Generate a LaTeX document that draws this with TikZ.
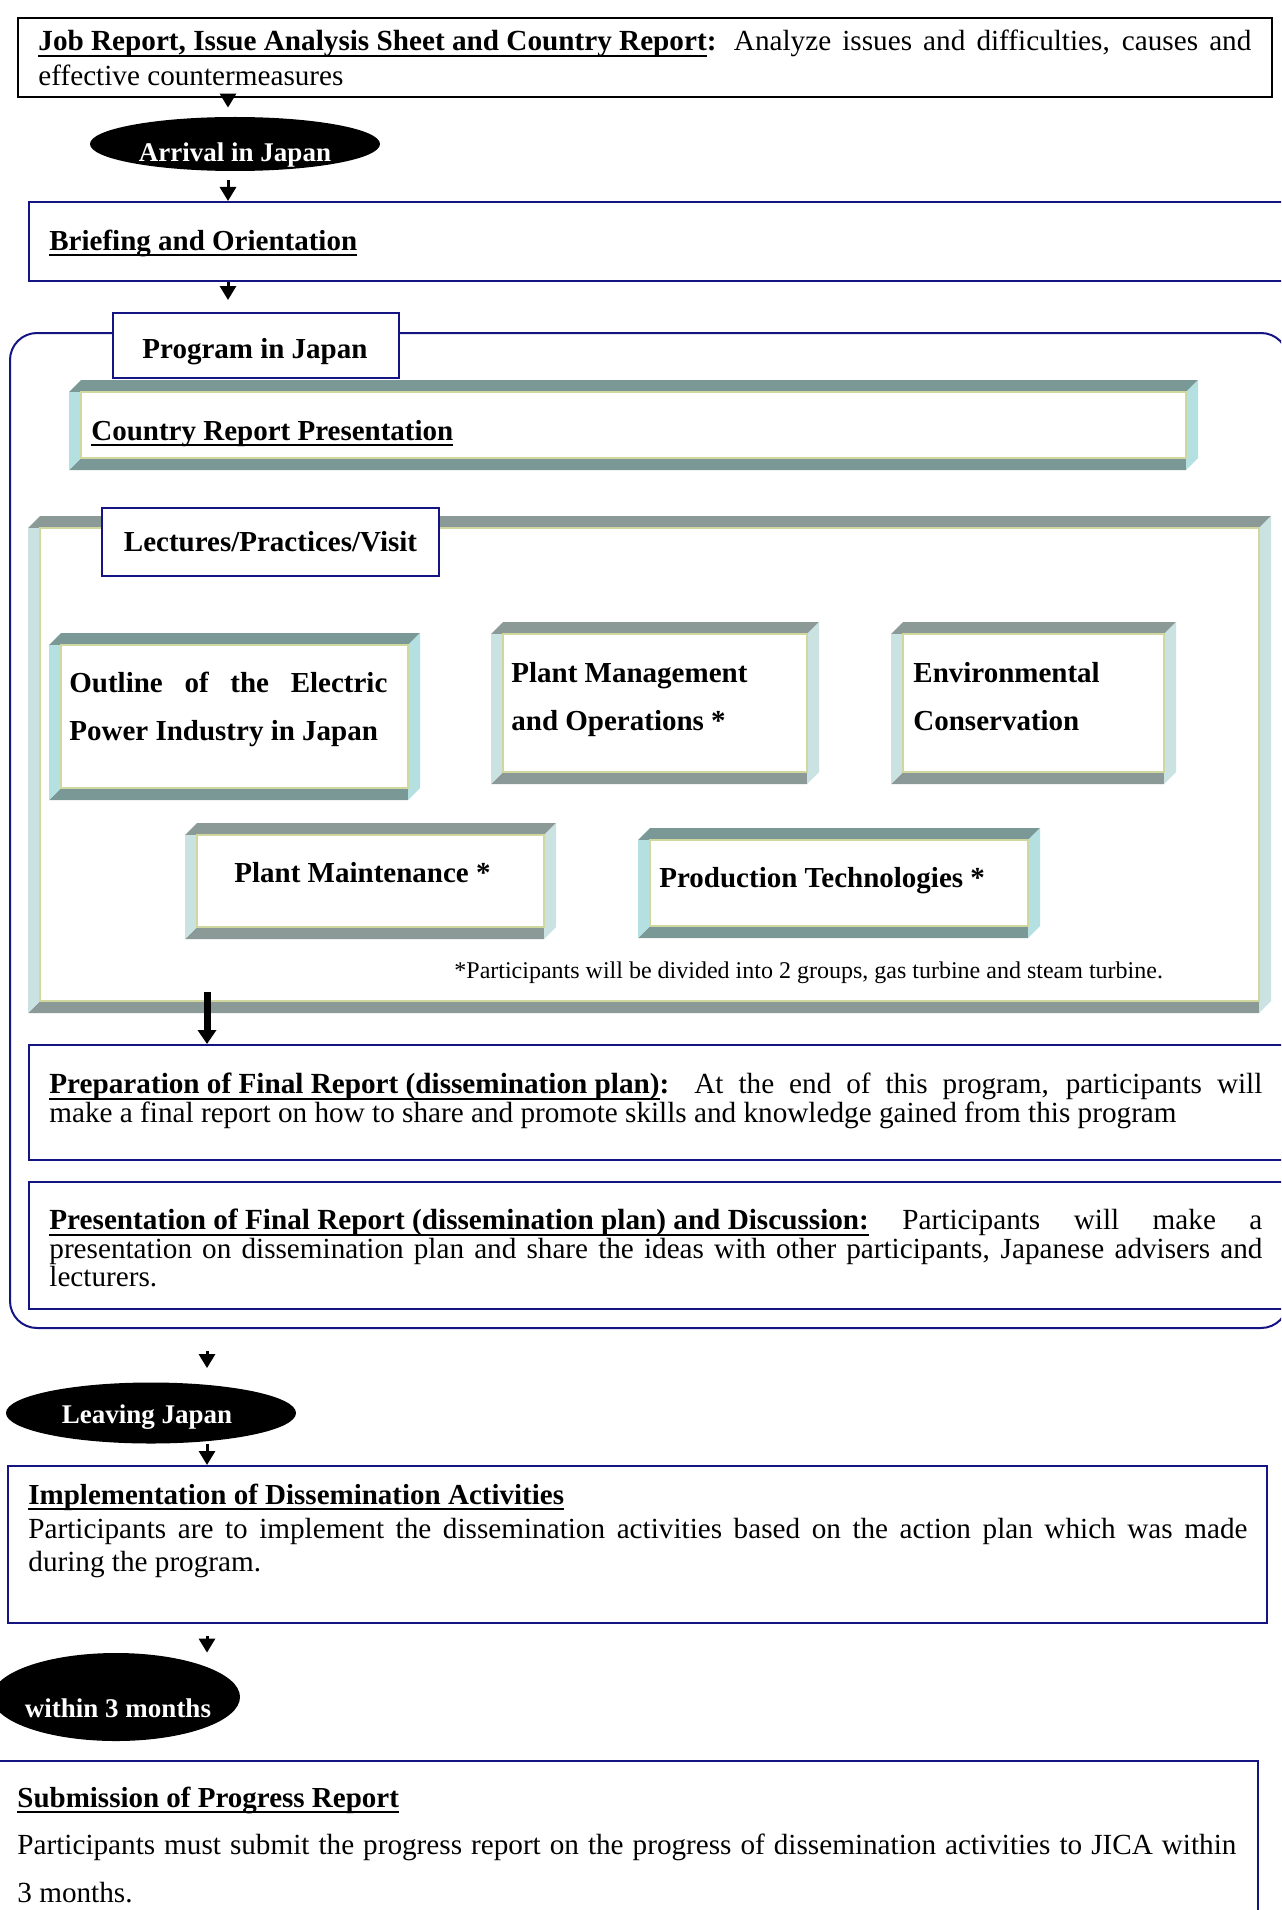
\documentclass[tikz,border=0pt]{standalone}
\usepackage{fontspec}
\setmainfont{Liberation Serif}
\usetikzlibrary{arrows.meta,shapes.geometric,positioning}

\definecolor{navy}{RGB}{20,20,130}
\definecolor{bevdark}{RGB}{122,153,150}
\definecolor{bevgray}{RGB}{139,153,151}
\definecolor{bevcyan}{RGB}{180,224,226}
\definecolor{bevpale}{RGB}{202,226,226}
\definecolor{khaki}{RGB}{208,216,160}

\hyphenpenalty=10000
\exhyphenpenalty=10000
\tolerance=9000

% thick underline
\newsavebox{\ulbox}
\newcommand{\ulb}[1]{\sbox{\ulbox}{#1}\rlap{\rule[-3pt]{\wd\ulbox}{1pt}}\usebox{\ulbox}}

% bevelled frame: x0, y0, x1, y1, top/bottom colour, side colour
\newcommand{\bevbox}[6]{%
  \fill[#5] (#1,#2+12) -- (#1+12,#2) -- (#3,#2) -- (#3-12,#2+12) -- cycle;
  \fill[#5] (#1,#4) -- (#1+12,#4-12) -- (#3-12,#4-12) -- (#3-12,#4) -- cycle;
  \fill[#6] (#1,#2+12) -- (#1+12,#2+12) -- (#1+12,#4-12) -- (#1,#4) -- cycle;
  \fill[#6] (#3-12,#2+12) -- (#3,#2) -- (#3,#4-12) -- (#3-12,#4) -- cycle;
  \draw[khaki, line width=0.8pt, fill=white] (#1+12,#2+12) rectangle (#3-12,#4-12);
}

\begin{document}
\begin{tikzpicture}[x=0.5pt, y=-0.5pt, >={Triangle[width=8pt,length=7pt]},
    navybox/.style={draw=navy, line width=1pt, inner sep=0pt, anchor=north west},
    oval/.style={ellipse, fill=black, inner sep=0pt},
    ovaltxt/.style={text=white, inner sep=0pt, font=\fontsize{13.5}{16}\selectfont\bfseries},
    title/.style={anchor=base west, inner sep=0pt, font=\fontsize{14.5}{17}\selectfont\bfseries},
    boxtitle/.style={anchor=west, inner sep=0pt, font=\fontsize{14.5}{17}\selectfont\bfseries},
    body/.style={anchor=north west, inner sep=0pt, align=justify, text width=#1},
    arr/.style={->, line width=1.5pt}]
  \useasboundingbox (0,0) rectangle (1281,1910);
  \clip (0,0) rectangle (1281,1910);
  \coordinate (spine) at (228,0);
  \coordinate (spine2) at (207,0);

  % before arrival
  \node[draw, line width=0.8pt, inner sep=0pt, anchor=north west, minimum width=627pt, minimum height=39.5pt] (job) at (17,17) {};
  \node[body=606.5pt, font=\fontsize{14.6}{17.5}\selectfont] (jobtxt) at (38,30)
    {\ulb{\textbf{Job Report, Issue Analysis Sheet and Country Report}}\textbf{:} Analyze issues and difficulties, causes and effective countermeasures};

  \node[oval, minimum width=145pt, minimum height=27pt] (arrival) at (235,144) {};
  \node[ovaltxt] (arrivaltxt) at (235,155) {Arrival in Japan};
  \draw[arr, shorten >=4.5pt] (job.south -| spine) -- (arrival.north -| spine);

  \node[navybox, minimum width=631pt, minimum height=39.5pt] (brief) at (28,201) {};
  \node[title] (brieftxt) at (49,250) {\ulb{Briefing and Orientation}};
  \draw[arr, shorten <=4.5pt] (arrival.south -| spine) -- (brief.north -| spine);

  % program in Japan
  \node[navybox, rounded corners=13.5pt, minimum width=639pt, minimum height=497.5pt] (prog) at (9,332) {};
  \node[navybox, fill=white, minimum width=143pt, minimum height=32.5pt] (proglbl) at (112,312) {};
  \node[boxtitle, anchor=center] (proglbltxt) at (255,352) {Program in Japan};
  \draw[arr, shorten >=6pt] (brief.south -| spine) -- (proglbl.north -| spine);

  \bevbox{69}{380}{1198}{470}{bevdark}{bevcyan}
  \node[title] (country) at (91,440) {\ulb{Country Report Presentation}};

  \bevbox{28}{516}{1271}{1013}{bevgray}{bevpale}
  \node[navybox, fill=white, minimum width=168.5pt, minimum height=34pt, font=\fontsize{14.5}{17}\selectfont\bfseries] (lect) at (101,507) {Lectures/Practices/Visit};

  \bevbox{49}{633}{420}{800}{bevdark}{bevcyan}
  \node[body=159pt, font=\fontsize{14.5}{24}\selectfont\bfseries] (outline) at (69,672) {Outline of the Electric Power Industry in Japan};

  \bevbox{491}{622}{819}{784}{bevgray}{bevpale}
  \node[anchor=north west, inner sep=0pt, align=left, font=\fontsize{14.5}{24}\selectfont\bfseries] (plantmgmt) at (511,662) {Plant Management\\and Operations *};

  \bevbox{891}{622}{1176}{784}{bevgray}{bevpale}
  \node[anchor=north west, inner sep=0pt, align=left, font=\fontsize{14.5}{24}\selectfont\bfseries] (env) at (913,662) {Environmental\\Conservation};

  \bevbox{185}{823}{556}{939}{bevgray}{bevpale}
  \node[boxtitle] (maint) at (234,873) {Plant Maintenance *};

  \bevbox{638}{828}{1040}{938}{bevdark}{bevcyan}
  \node[boxtitle] (prodtech) at (659,881) {Production Technologies *};

  \node[anchor=west, inner sep=0pt, font=\fontsize{12}{14}\selectfont] (note) at (454,973) {*Participants will be divided into 2 groups, gas turbine and steam turbine.};

  \node[navybox, minimum width=631pt, minimum height=57.5pt] (prep) at (28,1044) {};
  \coordinate (lectout) at (207,992);
  \draw[->, line width=3.5pt, >={Triangle[width=9pt,length=7pt]}] (lectout) -- (prep.north -| lectout);
  \node[body=606.5pt, font=\fontsize{14.6}{11.5}\selectfont] (preptxt) at (49,1073)
    {\lineskiplimit=-20pt\relax\ulb{\textbf{Preparation of Final Report (dissemination plan)}}\textbf{:} At the end of this program, participants will\linebreak make a final report on how to share and promote skills and knowledge gained from this program};

  \node[navybox, minimum width=631pt, minimum height=63.5pt] (pres) at (28,1181) {};
  \node[body=606.5pt, font=\fontsize{14.6}{12.2}\selectfont] (prestxt) at (49,1209)
    {\lineskiplimit=-20pt\relax\ulb{\textbf{Presentation of Final Report (dissemination plan) and Discussion:}} Participants will make a\linebreak presentation on dissemination plan and share the ideas with other participants, Japanese advisers and\linebreak lecturers.};

  % after the program
  \node[oval, minimum width=145pt, minimum height=30.5pt] (leave) at (151,1413) {};
  \node[ovaltxt] (leavetxt) at (147,1417) {Leaving Japan};
  \draw[arr, shorten <=11pt, shorten >=7pt] (prog.south -| spine2) -- (leave.north -| spine2);

  \node[navybox, minimum width=629.5pt, minimum height=78.5pt] (impl) at (7,1465) {};
  \draw[arr] (leave.south -| spine2) -- (impl.north -| spine2);
  \node[title] (impltitle) at (28,1504) {\ulb{Implementation of Dissemination Activities}};
  \node[body=609.5pt, font=\fontsize{14.6}{16.5}\selectfont] (impltxt) at (28,1518)
    {Participants are to implement the dissemination activities based on the action plan which was made\linebreak during the program.};

  \node[oval, minimum width=124pt, minimum height=44pt] (within) at (116,1697) {};
  \node[ovaltxt] (withintxt) at (118,1708) {within 3 months};
  \draw[arr, shorten <=6pt] (impl.south -| spine2) -- (within.north -| spine2);

  \node[navybox, minimum width=631pt, minimum height=82.5pt] (sub) at (-5,1760) {};
  \node[title] (subtitle) at (17,1807) {\ulb{Submission of Progress Report}};
  \node[body=609.5pt, font=\fontsize{14.6}{24}\selectfont] (subtxt) at (17,1834)
    {Participants must submit the progress report on the progress of dissemination activities to JICA within\linebreak 3 months.};
\end{tikzpicture}
\end{document}
